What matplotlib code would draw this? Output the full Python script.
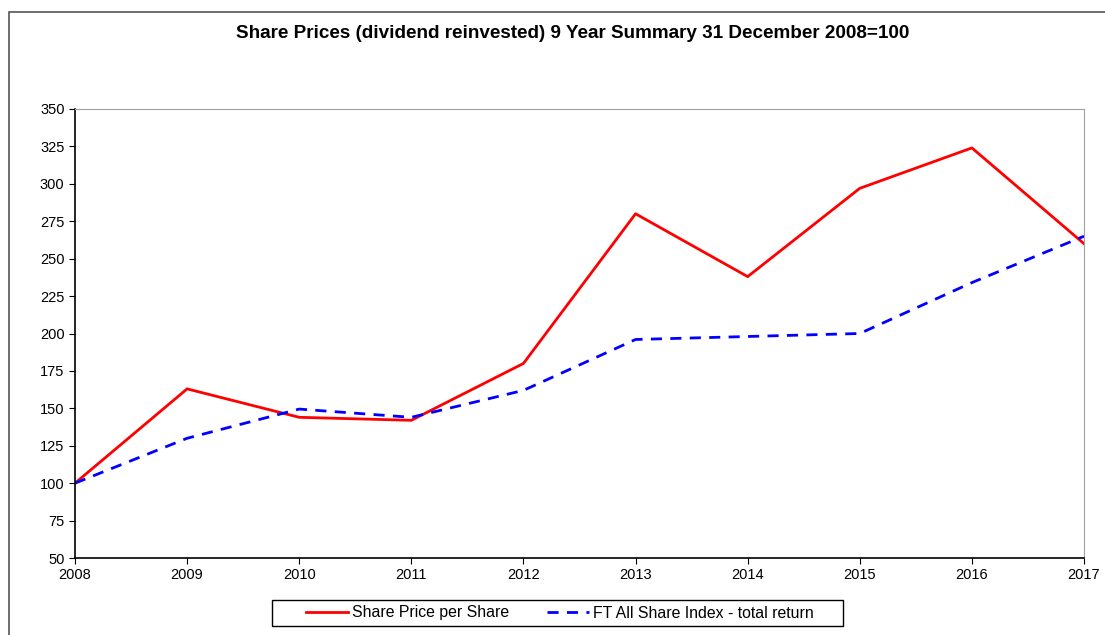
import numpy as np
import matplotlib.pyplot as plt
from matplotlib.patches import Rectangle

plt.rcParams['font.family'] = ['Liberation Sans', 'DejaVu Sans']

# data
years = [2008, 2009, 2010, 2011, 2012, 2013, 2014, 2015, 2016, 2017]
share_price = [100, 163, 144, 142, 180, 280, 238, 297, 324, 260]
ft_index = [100, 130, 149.5, 144, 162, 196, 198, 200, 234, 265]
y_ticks = list(range(50, 351, 25))

fig = plt.figure(figsize=(11.05, 6.35), dpi=100)
W, H = 1105, 635
ax = fig.add_axes([75 / W, 1 - 558 / H, (1084 - 75) / W, (558 - 109) / H])

# outer chart border (cut off on right and bottom in the original)
fig.patches.append(Rectangle((9 / W, -0.05), 1.2, 1 - 12 / H + 0.05,
                             transform=fig.transFigure, fill=False,
                             edgecolor='#555555', linewidth=1.2))

ax.plot(years, share_price, color='#ff0000', linewidth=2, label='Share Price per Share')
ax.plot(years, ft_index, color='#0000ff', linewidth=2, linestyle=(0, (4, 3)),
        label='FT All Share Index - total return')

ax.set_xlim(2008, 2017)
ax.set_ylim(50, 350)
ax.set_xticks(years)
ax.set_yticks(y_ticks)
ax.tick_params(axis='both', labelsize=10.5, length=4, direction='out')
ax.tick_params(axis='x', pad=3)

for s in ['top', 'right']:
    ax.spines[s].set_color('#a0a0a0')
for s in ['left', 'bottom']:
    ax.spines[s].set_color('black')
    ax.spines[s].set_linewidth(1.2)

fig.text(573 / W, 1 - 33 / H,
         'Share Prices (dividend reinvested) 9 Year Summary 31 December 2008=100',
         ha='center', va='center', fontsize=13.6, fontweight='bold')

# legend box drawn separately so it can be wider than its contents
fig.patches.append(Rectangle((272 / W, 1 - 626 / H), (843 - 272) / W, 26 / H,
                             transform=fig.transFigure, fill=False,
                             edgecolor='black', linewidth=1))
leg = fig.legend(loc='center', bbox_to_anchor=(560 / W, 1 - 613 / H), ncol=2,
                 frameon=False, fontsize=11.4, handlelength=2.65,
                 columnspacing=2.4, borderpad=0, borderaxespad=0,
                 handletextpad=0.25)

fig.savefig('out.png', dpi=100)
